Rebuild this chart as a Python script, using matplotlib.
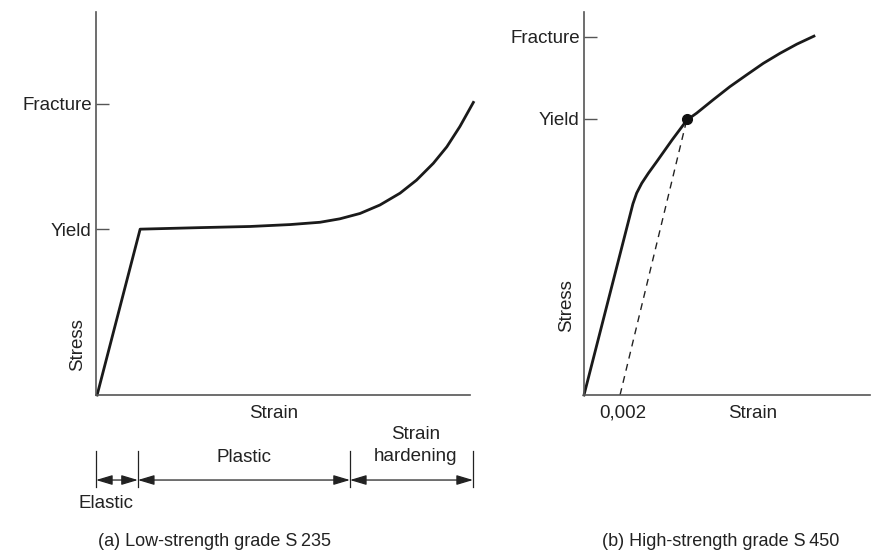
import matplotlib
matplotlib.use("Agg")
import matplotlib.pyplot as plt
from matplotlib.patches import FancyArrowPatch

plt.rcParams['font.family'] = ['Liberation Sans', 'DejaVu Sans']

# ---- data (arbitrary units, 0..100) ----
# (a) low-strength steel S 235
strain_a = [0.3, 11.8, 27.8, 41.2, 51.9, 59.9, 65.2, 70.6, 75.9, 81.3, 85.7, 90.2, 93.8, 97.3, 100.9]
stress_a = [0.0, 43.3, 43.7, 44.0, 44.5, 45.1, 46.0, 47.4, 49.6, 52.7, 56.1, 60.5, 64.8, 70.1, 76.4]
yield_a = 43.3
fracture_a = 76.0
zone_edges_a = [0.0, 11.2, 67.9, 100.8]   # elastic | plastic | strain hardening

# (b) high-strength steel S 450
strain_b = [0.0, 17.1, 18.4, 20.2, 22.5, 25.4, 30.8, 36.0, 39.4, 45.2, 51.0, 56.9, 62.7, 68.5, 74.4, 80.4]
stress_b = [0.0, 49.9, 52.7, 55.3, 57.9, 60.9, 66.6, 71.8, 73.6, 77.1, 80.5, 83.6, 86.6, 89.2, 91.6, 93.7]
yield_b = 72.1
fracture_b = 93.5
offset_strain = 12.6          # 0,002 offset line start
yield_point_b = (36.0, 72.1)

tick_labels = ['Yield', 'Fracture']

W, H = 879, 557
fig = plt.figure(figsize=(W / 100, H / 100), dpi=100)

axcol = '#555555'
txtcol = '#222222'
FS = 13.5

def make_ax(x0, x1, y0, y1):
    ax = fig.add_axes([x0 / W, 1 - y1 / H, (x1 - x0) / W, (y1 - y0) / H])
    ax.set_xlim(0, 100)
    ax.set_ylim(0, 100)
    for s in ['top', 'right']:
        ax.spines[s].set_visible(False)
    for s in ['left', 'bottom']:
        ax.spines[s].set_color(axcol)
        ax.spines[s].set_linewidth(1.2)
    ax.set_xticks([])
    ax.tick_params(axis='y', direction='in', length=9.5, width=1.0, color=axcol,
                   pad=3, labelsize=FS, labelcolor=txtcol)
    return ax

# ---------------- (a) ----------------
ax1 = make_ax(96, 470, 12, 395)
ax1.plot(strain_a, stress_a, color='#1a1a1a', lw=2.0, clip_on=False,
         solid_joinstyle='round')
ax1.set_yticks([yield_a, fracture_a])
ax1.set_yticklabels(tick_labels)
ax1.text(47.5, -4.7, 'Strain', ha='center', va='center', fontsize=FS, color=txtcol)
ax1.text(-4.8, 13.2, 'Stress', ha='center', va='center', rotation=90, fontsize=FS,
         color=txtcol)

# dimension lines
for xe in zone_edges_a:
    ax1.plot([xe, xe], [-14.6, -24.0], color=txtcol, lw=0.9, clip_on=False)
for xa, xb in zip(zone_edges_a[:-1], zone_edges_a[1:]):
    arr = FancyArrowPatch((xa, -22.2), (xb, -22.2),
                          arrowstyle='<|-|>,head_length=1.0,head_width=0.3',
                          mutation_scale=10, shrinkA=0, shrinkB=0,
                          color=txtcol, lw=0.9, clip_on=False)
    ax1.add_patch(arr)
ax1.text(2.7, -28.2, 'Elastic', ha='center', va='center', fontsize=FS, color=txtcol)
ax1.text(39.5, -16.4, 'Plastic', ha='center', va='center', fontsize=FS, color=txtcol)
ax1.text(85.5, -13.2, 'Strain\nhardening', ha='center', va='center', fontsize=FS,
         color=txtcol, linespacing=1.38)

# ---------------- (b) ----------------
ax2 = make_ax(584, 870, 12, 395)
ax2.plot(strain_b, stress_b, color='#1a1a1a', lw=2.0, clip_on=False,
         solid_joinstyle='round')
ax2.plot([offset_strain, yield_point_b[0]], [0, yield_point_b[1]], color=txtcol,
         lw=1.0, ls=(0, (5, 4)))
ax2.plot([yield_point_b[0]], [yield_point_b[1]], 'o', color='#111111', ms=7)
ax2.set_yticks([yield_b, fracture_b])
ax2.set_yticklabels(tick_labels)
ax2.text(13.7, -4.7, '0,002', ha='center', va='center', fontsize=FS, color=txtcol)
ax2.text(58.9, -4.7, 'Strain', ha='center', va='center', fontsize=FS, color=txtcol)
ax2.text(-6.0, 23.4, 'Stress', ha='center', va='center', rotation=90, fontsize=FS,
         color=txtcol)

# captions
fig.text(215 / W, 1 - 541 / H, '(a) Low-strength grade S\u2009235', ha='center',
         va='center', fontsize=FS - 0.5, color=txtcol)
fig.text(721 / W, 1 - 541 / H, '(b) High-strength grade S\u2009450', ha='center',
         va='center', fontsize=FS - 0.5, color=txtcol)

fig.savefig('out.png', dpi=100)
